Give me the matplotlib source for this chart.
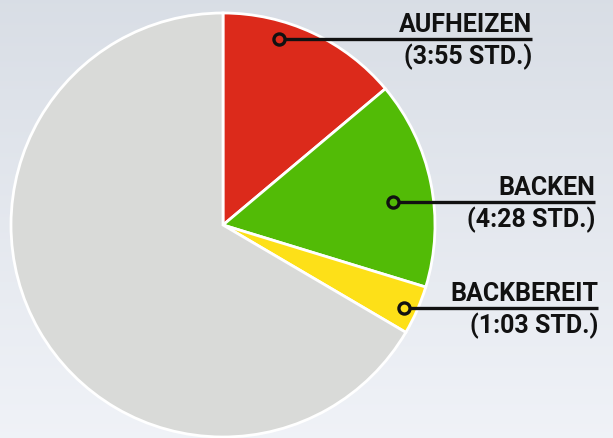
import numpy as np
import matplotlib.pyplot as plt

# Zeiten in Minuten
labels = ["AUFHEIZEN", "BACKEN", "BACKBEREIT", ""]
minutes = [235, 268, 63, 1126]
time_labels = ["(3:55 STD.)", "(4:28 STD.)", "(1:03 STD.)"]
colors = ["#dc2a1b", "#52bb06", "#fde018", "#d9dad8"]

W, H = 613, 439
fig = plt.figure(figsize=(W / 100, H / 100), dpi=100)
ax = fig.add_axes([0, 0, 1, 1])
ax.set_xlim(0, W)
ax.set_ylim(0, H)

# background gradient
grad = np.linspace(0, 1, 256).reshape(-1, 1)
top = np.array([0.85, 0.87, 0.90])
bot = np.array([0.94, 0.95, 0.97])
img = top[None, None, :] * (1 - grad[:, :, None]) + bot[None, None, :] * grad[:, :, None]
ax.imshow(img, extent=[0, W, 0, H], origin="upper", aspect="auto", zorder=0)

cx, cy, r = 223, H - 226, 212
wedges, _ = ax.pie(minutes, colors=colors, startangle=90, counterclock=False,
                   center=(cx, cy), radius=r, frame=True,
                   wedgeprops=dict(edgecolor="white", linewidth=2))
for w in wedges:
    w.set_zorder(2)
ax.set_xlim(0, W)
ax.set_ylim(0, H)
ax.axis("off")

# label layout (pixel coords, y from top)
dots = [(279, 40), (393, 203), (404, 309)]
ends = [532, 595, 598]
font = dict(family="Roboto", fontweight="bold", fontsize=18, color="#111111")
for i in range(3):
    dx, dy = dots[i]
    ly = H - dy
    ax.plot([dx, ends[i]], [ly, ly], color="#111111", lw=2.4, zorder=3,
            solid_capstyle="butt")
    ax.plot(dx, ly, "o", ms=8, mfc=colors[i], mec="#111111", mew=2.4, zorder=4)
    ax.text(ends[i], ly + 3, labels[i], ha="right", va="bottom", zorder=4, **font)
    ax.text(ends[i], ly - 4, time_labels[i], ha="right", va="top", zorder=4, **font)

fig.savefig("out.png", dpi=100)
